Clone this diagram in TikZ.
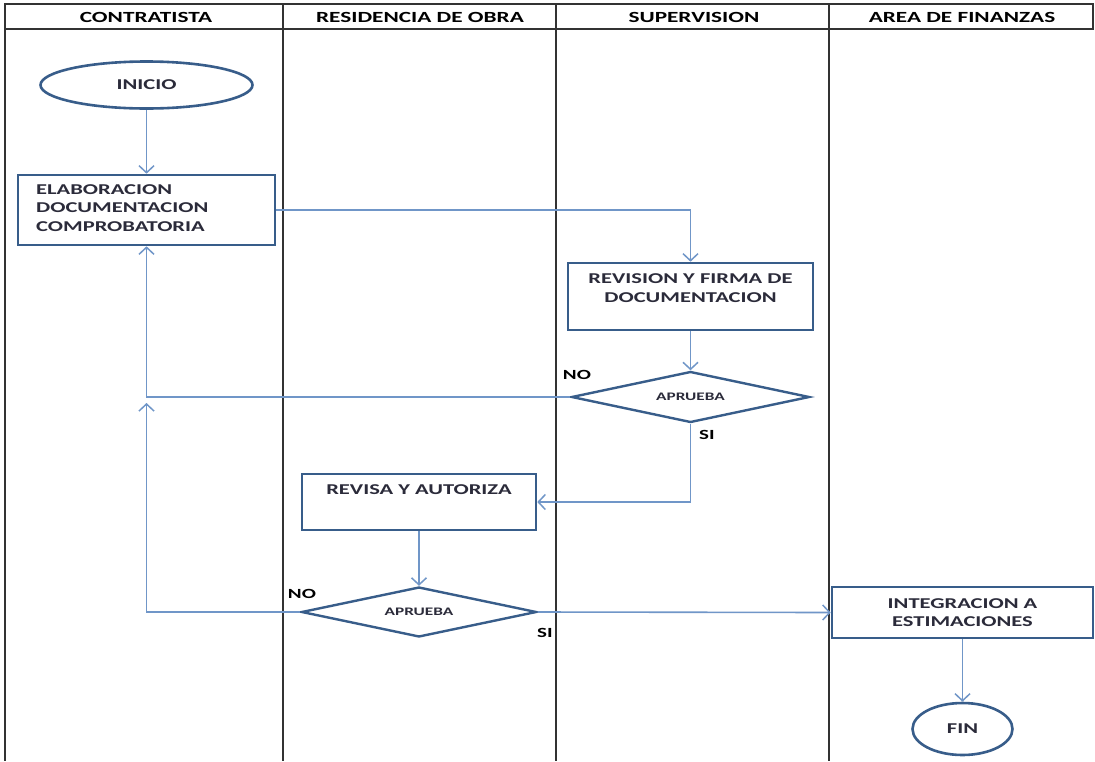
\documentclass[tikz,border=0pt]{standalone}
\usepackage{fontspec}
\setmainfont{Carlito}[FakeStretch=1.5]
\usetikzlibrary{shapes.geometric,arrows.meta}
\definecolor{boxline}{HTML}{385D8A}
\definecolor{connline}{HTML}{7096C8}
\definecolor{txt}{HTML}{2B2B3A}
\tikzset{
  lane/.style={draw=black!80, line width=1.6pt},
  procbox/.style={draw=boxline, line width=2.6pt, fill=white, rectangle, inner sep=0pt},
  termbox/.style={draw=boxline, line width=2.6pt, fill=white, ellipse, inner sep=0pt},
  decbox/.style={draw=boxline, line width=2.4pt, fill=white, diamond, inner sep=0pt, aspect=4.6,
    font=\fontsize{11.5}{13}\selectfont\bfseries, text=txt},
  btext/.style={font=\fontsize{15}{18.5}\selectfont\bfseries, text=txt, inner sep=0pt},
  lbl/.style={font=\fontsize{14}{16}\selectfont\bfseries, text=black, inner sep=0pt},
  head/.style={font=\fontsize{15.5}{18}\selectfont\bfseries, text=black, inner sep=0pt},
  conn/.style={draw=connline, line width=1.6pt, -{Straight Barb[length=7pt,width=15pt,line width=1.5pt]}},
}
\begin{document}
\begin{tikzpicture}[x=1pt,y=-1pt]
\useasboundingbox (0,0) rectangle (1095,761);
\fill[white] (0,0) rectangle (1095,761);
% lanes
\draw[lane] (5,4) rectangle (1093,29);
\draw[lane] (5,29) -- (5,761);
\draw[lane] (283,4) -- (283,761);
\draw[lane] (556,4) -- (556,761);
\draw[lane] (829,4) -- (829,761);
\node[head] (h1) at (146,17) {CONTRATISTA};
\node[head] (h2) at (420,17) {RESIDENCIA DE OBRA};
\node[head] (h3) at (694,17) {SUPERVISION};
\node[head] (h4) at (962,17) {AREA DE FINANZAS};
% nodes
\node[termbox, minimum width=212pt, minimum height=47pt, btext] (inicio) at (146.5,85) {INICIO};
\node[procbox, minimum width=257pt, minimum height=70pt] (elab) at (146.5,210) {};
\node[btext, align=left, anchor=west] (elabt) at (36,208) {ELABORACION\\DOCUMENTACION\\COMPROBATORIA};
\node[procbox, minimum width=245pt, minimum height=67pt] (rev) at (690.5,296.5) {};
\node[btext, align=center] (revt) at (690.5,288) {REVISION Y FIRMA DE\\DOCUMENTACION};
\node[decbox, minimum width=238pt, minimum height=51pt] (d1) at (690.5,397) {APRUEBA};
\node[procbox, minimum width=234pt, minimum height=56pt] (revisa) at (419,502) {};
\node[btext] (revisat) at (419,490) {REVISA Y AUTORIZA};
\node[decbox, minimum width=235pt, minimum height=50pt] (d2) at (419,612) {APRUEBA};
\node[procbox, minimum width=261pt, minimum height=51pt, btext, align=center] (integ) at (962.5,612.5) {INTEGRACION A\\ESTIMACIONES};
\node[termbox, minimum width=100pt, minimum height=52pt, btext] (fin) at (962.5,729) {FIN};
% labels
\node[lbl] (no1) at (577,375) {NO};
\node[lbl] (si1) at (707,435) {SI};
\node[lbl] (no2) at (302,594) {NO};
\node[lbl] (si2) at (545,633) {SI};
\coordinate (nohit) at (146.5,403);
% connectors
\draw[conn] (inicio.south) -- (inicio.south |- elab.north);
\draw[conn] (elab.east) -| (rev.north);
\draw[conn] (rev.south) -- (d1.north);
\draw[conn] (d1.west) -| (elab.south);
\draw[conn] (d1.south) |- (revisa.east);
\draw[conn] (revisa.south) -- (d2.north);
\draw[conn] (d2.west) -| (nohit);
\draw[conn] (d2.east) -- (integ.west);
\draw[conn] (integ.south) -- (fin.north);
\end{tikzpicture}
\end{document}
